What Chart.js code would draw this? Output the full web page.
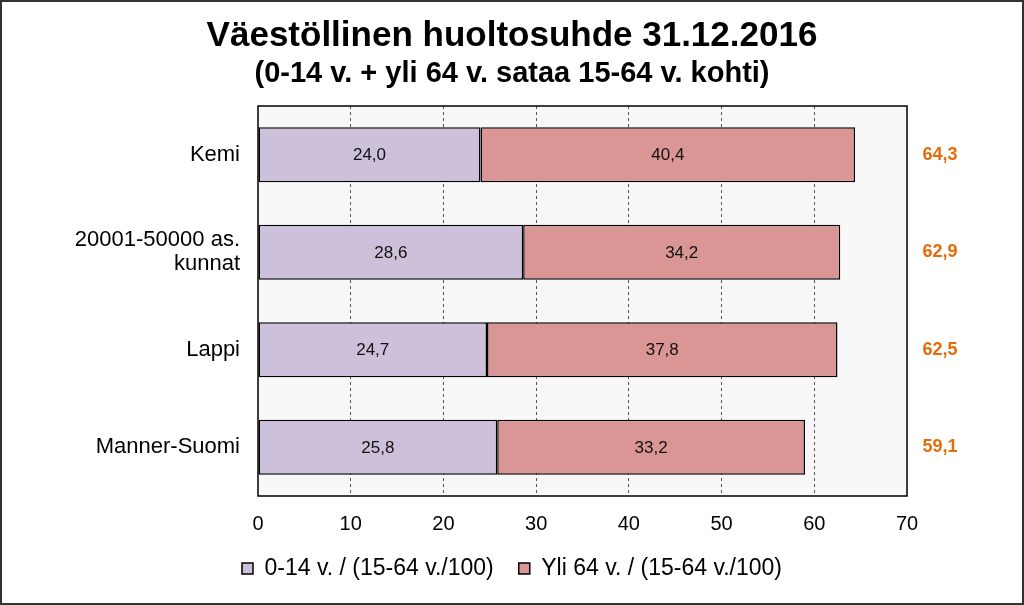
<!DOCTYPE html>
<html>
<head>
<meta charset="utf-8">
<script src="https://cdn.jsdelivr.net/npm/chart.js@4/dist/chart.umd.min.js"></script>
<style>
  html, body { margin: 0; padding: 0; background: #fff; }
  #wrap { width: 1024px; height: 605px; position: relative; }
</style>
</head>
<body>
<div id="wrap"><canvas id="chart" width="1024" height="605"></canvas></div>
<script>
// Arvot kuvasta
const categories = ["Kemi", ["20001-50000 as.", "kunnat"], "Lappi", "Manner-Suomi"];
const children = [24.0, 28.6, 24.7, 25.8];
const elderly = [40.4, 34.2, 37.8, 33.2];
const totals = [64.3, 62.9, 62.5, 59.1];
const seriesNames = ["0-14 v. / (15-64 v./100)", "Yli 64 v. / (15-64 v./100)"];

const fmt = (v) => v.toFixed(1).replace(".", ",");
const SANS = "'Liberation Sans', Arial, sans-serif";

// tausta, kehys ja arvot
const decorPlugin = {
  id: "decor",
  beforeDraw(chart) {
    const { ctx, chartArea: a } = chart;
    ctx.save();
    ctx.fillStyle = "#fff";
    ctx.fillRect(0, 0, chart.width, chart.height);
    ctx.fillStyle = "#f8f8f8";
    ctx.fillRect(a.left, a.top, a.right - a.left, a.bottom - a.top);
    ctx.restore();
  },
  afterDraw(chart) {
    const { ctx, chartArea: a } = chart;
    const yScale = chart.scales.y;
    ctx.save();
    ctx.strokeStyle = "#000";
    ctx.lineWidth = 1.5;
    ctx.strokeRect(a.left, a.top, a.right - a.left, a.bottom - a.top);

    // arvot palkkien sisällä
    ctx.font = "17px " + SANS;
    ctx.fillStyle = "#111";
    ctx.textAlign = "center";
    ctx.textBaseline = "middle";
    chart.data.datasets.forEach((ds, di) => {
      chart.getDatasetMeta(di).data.forEach((bar, i) => {
        ctx.fillText(fmt(ds.data[i]), (bar.x + bar.base) / 2, bar.y + 1);
      });
    });

    // summat oikealla
    ctx.font = "bold 18px " + SANS;
    ctx.fillStyle = "#e46c0a";
    totals.forEach((t, i) => {
      ctx.fillText(fmt(t), 940, yScale.getPixelForValue(i));
    });

    // kuvan reunus
    ctx.strokeStyle = "#333";
    ctx.lineWidth = 2;
    ctx.strokeRect(1, 1, chart.width - 2, chart.height - 2);
    ctx.restore();
  },
};

new Chart(document.getElementById("chart").getContext("2d"), {
  type: "bar",
  data: {
    labels: categories,
    datasets: [
      {
        label: seriesNames[0],
        data: children,
        backgroundColor: "#ccc0da",
        borderColor: "#000",
        borderWidth: 1.5,
        borderSkipped: false,
        barPercentage: 0.565,
        categoryPercentage: 1,
      },
      {
        label: seriesNames[1],
        data: elderly,
        backgroundColor: "#d99694",
        borderColor: "#000",
        borderWidth: 1.5,
        borderSkipped: false,
        barPercentage: 0.565,
        categoryPercentage: 1,
      },
    ],
  },
  options: {
    indexAxis: "y",
    responsive: false,
    animation: false,
    layout: { padding: { left: 0, right: 0, top: 0, bottom: 15 } },
    plugins: {
      title: {
        display: true,
        text: "Väestöllinen huoltosuhde 31.12.2016",
        color: "#000",
        font: { family: SANS, size: 35, weight: "bold", lineHeight: 1 },
        padding: { top: 19, bottom: 5 },
      },
      subtitle: {
        display: true,
        text: "(0-14 v. + yli 64 v. sataa 15-64 v. kohti)",
        color: "#000",
        font: { family: SANS, size: 29, weight: "bold", lineHeight: 1 },
        padding: { top: 0, bottom: 18 },
      },
      legend: {
        position: "bottom",
        labels: {
          color: "#000",
          font: { family: SANS, size: 23 },
          boxWidth: 11,
          boxHeight: 11,
          padding: 25,
        },
      },
      tooltip: { enabled: false },
    },
    scales: {
      x: {
        stacked: true,
        min: 0,
        max: 70,
        ticks: { stepSize: 10, color: "#000", font: { family: SANS, size: 20 }, padding: 16 },
        grid: {
          drawTicks: false,
          color: (c) => (c.tick && (c.tick.value === 0 || c.tick.value === 70) ? "rgba(0,0,0,0)" : "#555"),
          lineWidth: 1,
        },
        border: { display: false, dash: [3, 3] },
        afterFit: (scale) => { scale.height = 36; },
      },
      y: {
        stacked: true,
        ticks: { color: "#000", font: { family: SANS, size: 22, lineHeight: 1.1 }, padding: 18 },
        grid: { display: false, drawTicks: false },
        border: { display: false },
        afterFit: (scale) => { scale.width = 258; },
      },
      // tyhjä akseli oikealle summien tilaa varten
      yRight: {
        type: "category",
        position: "right",
        labels: categories,
        ticks: { display: false },
        grid: { display: false, drawTicks: false },
        border: { display: false },
        afterFit: (scale) => { scale.width = 117; },
      },
    },
  },
  plugins: [decorPlugin],
});
</script>
</body>
</html>
